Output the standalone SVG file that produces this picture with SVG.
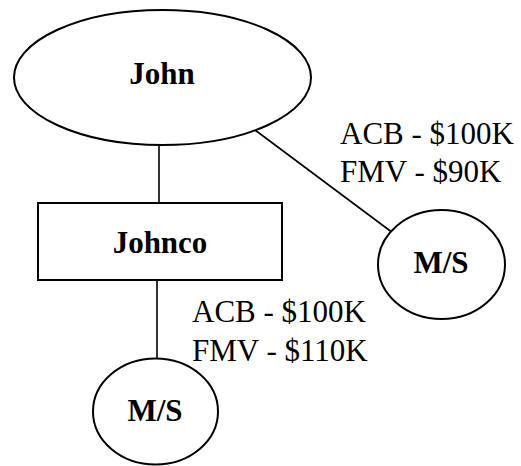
<svg xmlns="http://www.w3.org/2000/svg" width="521" height="466" viewBox="0 0 521 466">
<style>
.shape{fill:#fff;stroke:#000;stroke-width:2}
.conn{stroke:#000;stroke-width:1.6;fill:none}
.lbl{font-family:"Liberation Serif","Times New Roman",serif;font-size:31px;fill:#000}
.bold{font-weight:bold;text-anchor:middle}
</style>
<rect width="521" height="466" fill="#fff"/>
<g id="connectors">
<line class="conn" x1="159" y1="145" x2="159" y2="203"/>
<line class="conn" x1="255" y1="130" x2="393" y2="233"/>
<line class="conn" x1="157" y1="280" x2="157" y2="359"/>
</g>
<g id="john">
<ellipse class="shape" cx="162.5" cy="77.5" rx="148.5" ry="67.5"/>
<text class="lbl bold" x="162" y="84">John</text>
</g>
<g id="johnco">
<rect class="shape" x="38" y="203" width="244" height="77"/>
<text class="lbl bold" x="160" y="253">Johnco</text>
</g>
<g id="ms-right">
<ellipse class="shape" cx="441.5" cy="264.5" rx="63.5" ry="54.5"/>
<text class="lbl bold" x="441" y="273">M/S</text>
</g>
<g id="ms-bottom">
<ellipse class="shape" cx="155.5" cy="411.5" rx="62.5" ry="53"/>
<text class="lbl bold" x="155" y="421">M/S</text>
</g>
<g id="labels">
<text class="lbl" x="340" y="144">ACB - $100K</text>
<text class="lbl" x="340" y="182">FMV - $90K</text>
<text class="lbl" x="192" y="322">ACB - $100K</text>
<text class="lbl" x="192" y="361">FMV - $110K</text>
</g>
</svg>
